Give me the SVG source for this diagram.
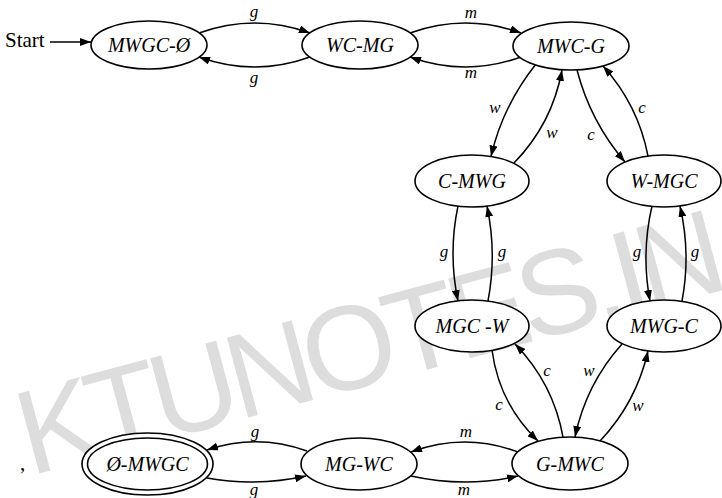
<svg xmlns="http://www.w3.org/2000/svg" width="722" height="498" viewBox="0 0 722 498">
<defs>
<marker id="ah" viewBox="0 0 11 8" refX="11" refY="4" markerWidth="11" markerHeight="8" markerUnits="userSpaceOnUse" orient="auto">
<path d="M0,0 L11,4 L0,8 z" fill="#000"/>
</marker>
<style>
.wm{font-family:"Liberation Sans",Arial,sans-serif;font-size:120px;letter-spacing:-8px;fill:#dddddd}
.node ellipse{fill:#fff;stroke:#000;stroke-width:1.6}
.nl{font-family:"Liberation Serif","Times New Roman",serif;font-style:italic;font-size:20px;text-anchor:middle;fill:#000}
.edge{fill:none;stroke:#000;stroke-width:1.5;marker-end:url(#ah)}
.el{font-family:"Liberation Serif","Times New Roman",serif;font-style:italic;font-size:17px;text-anchor:middle;fill:#000}
.st{font-family:"Liberation Serif","Times New Roman",serif;font-size:21px;fill:#000}
</style>
</defs>
<rect width="722" height="498" fill="#fff"/>
<text class="wm" x="30" y="476" transform="rotate(-15 30 476)">KTUNOTES.IN</text>
<text class="st" x="5" y="47">Start</text>
<text class="st" x="20" y="470" font-size="18">,</text>
<g id="connectors">
<path class="edge" d="M50,42 H91"/>
<path class="edge" d="M199,33 Q254.5,13 310,33"/>
<path class="edge" d="M310,57 Q254.5,77 199,57"/>
<path class="edge" d="M410,33 Q465.5,13 521,33"/>
<path class="edge" d="M521,57 Q465.5,77 410,57"/>
<path class="edge" d="M536,64 Q502.7,105.8 491,156.5"/>
<path class="edge" d="M514,163 Q552.2,123.8 562,70"/>
<path class="edge" d="M577,70 Q590.4,121.6 625,162"/>
<path class="edge" d="M648,156 Q638,104.7 603,66"/>
<path class="edge" d="M458,206 Q448,253.5 458,301"/>
<path class="edge" d="M488,301 Q497,253.5 487,206"/>
<path class="edge" d="M652,206 Q641,253.5 650,301"/>
<path class="edge" d="M682,301 Q691,253.5 680,206"/>
<path class="edge" d="M492,350 Q499,403.6 538,441"/>
<path class="edge" d="M563,437 Q553.2,383.2 515,344"/>
<path class="edge" d="M622,344 Q586,384.2 575,437"/>
<path class="edge" d="M600,441 Q636.3,402.6 648,351"/>
<path class="edge" d="M518,452 Q464.5,432 411,452"/>
<path class="edge" d="M411,476 Q464.5,488 518,476"/>
<path class="edge" d="M307,451 Q257,433 207,450"/>
<path class="edge" d="M207,478 Q256,487 306,476"/>
<text class="el" x="254" y="17">g</text>
<text class="el" x="254" y="83">g</text>
<text class="el" x="471" y="18">m</text>
<text class="el" x="471" y="78">m</text>
<text class="el" x="495" y="113">w</text>
<text class="el" x="552" y="138">w</text>
<text class="el" x="591" y="140">c</text>
<text class="el" x="642" y="113">c</text>
<text class="el" x="444" y="257">g</text>
<text class="el" x="502" y="257">g</text>
<text class="el" x="637" y="257">g</text>
<text class="el" x="695" y="257">g</text>
<text class="el" x="499" y="410">c</text>
<text class="el" x="547" y="376">c</text>
<text class="el" x="589" y="376">w</text>
<text class="el" x="638" y="411">w</text>
<text class="el" x="466" y="437">m</text>
<text class="el" x="464" y="495">m</text>
<text class="el" x="255" y="437">g</text>
<text class="el" x="254" y="495">g</text>
</g>
<g id="n-MWGC-0" class="node"><ellipse cx="149" cy="45" rx="58" ry="24"/><text class="nl" x="149" y="52">MWGC-Ø</text></g>
<g id="n-WC-MG" class="node"><ellipse cx="360" cy="45" rx="58" ry="24"/><text class="nl" x="360" y="52">WC-MG</text></g>
<g id="n-MWC-G" class="node"><ellipse cx="571" cy="46" rx="58" ry="24"/><text class="nl" x="571" y="53">MWC-G</text></g>
<g id="n-C-MWG" class="node"><ellipse cx="472" cy="181" rx="57" ry="26"/><text class="nl" x="472" y="188">C-MWG</text></g>
<g id="n-W-MGC" class="node"><ellipse cx="664" cy="181" rx="57" ry="26"/><text class="nl" x="664" y="188">W-MGC</text></g>
<g id="n-MGC-W" class="node"><ellipse cx="472" cy="326" rx="57" ry="26"/><text class="nl" x="472" y="333">MGC -W</text></g>
<g id="n-MWG-C" class="node"><ellipse cx="664" cy="326" rx="57" ry="26"/><text class="nl" x="664" y="333">MWG-C</text></g>
<g id="n-G-MWC" class="node"><ellipse cx="570" cy="463.5" rx="58" ry="26.5"/><text class="nl" x="570" y="471">G-MWC</text></g>
<g id="n-MG-WC" class="node"><ellipse cx="359" cy="464" rx="58" ry="26"/><text class="nl" x="359" y="471">MG-WC</text></g>
<g id="n-0-MWGC" class="node"><ellipse cx="147.5" cy="464" rx="65.5" ry="31"/><ellipse cx="147.5" cy="464" rx="60" ry="26"/><text class="nl" x="147.5" y="471">Ø-MWGC</text></g>
</svg>
